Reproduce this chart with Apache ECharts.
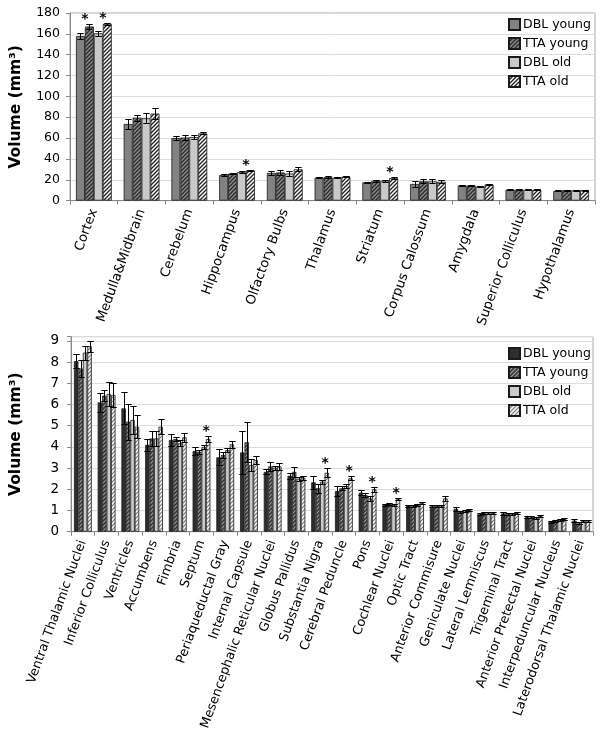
<!DOCTYPE html>
<html><head><meta charset="utf-8">
<script src="https://cdn.jsdelivr.net/npm/echarts@6/dist/echarts.min.js"></script>
<style>
html,body{margin:0;padding:0;background:#fff;width:602px;height:739px;overflow:hidden}
#top{position:absolute;left:0;top:0;width:602px;height:330px}
#bot{position:absolute;left:0;top:330px;width:602px;height:409px}
</style>
</head><body><div id="top"></div><div id="bot"></div>
<script>
// ---------- DATA ----------
const seriesNames = ['DBL young', 'TTA young', 'DBL old', 'TTA old'];

const topCats = ['Cortex','Medulla&Midbrain','Cerebelum','Hippocampus','Olfactory Bulbs','Thalamus','Striatum','Corpus Calossum','Amygdala','Superior Colliculus','Hypothalamus'];
const topTicks = [0,20,40,60,80,100,120,140,160,180];
const topDBLyoung = [158, 73.5, 60, 24.5, 26.5, 22, 17.5, 16, 14.5, 10.5, 9.3];
const topTTAyoung = [167, 79.5, 60.5, 26, 27, 22.5, 19, 18.5, 14.5, 10.5, 10];
const topDBLold   = [160.5, 79, 61, 27.5, 26, 22, 19, 18.5, 13.5, 10.5, 9.8];
const topTTAold   = [169.5, 83.5, 64.5, 29, 30, 23, 21.5, 18, 15.5, 10.5, 10];
const topDBLyoungErr = [2.7, 4.5, 2, 0.7, 1.5, 0.5, 0.8, 2.5, 0.7, 0.4, 0.5];
const topTTAyoungErr = [2, 3, 2, 0.7, 2, 0.7, 0.7, 2, 0.7, 0.4, 0.5];
const topDBLoldErr   = [2.5, 5, 2, 0.7, 2.5, 0.5, 0.7, 2, 0.7, 0.4, 0.4];
const topTTAoldErr   = [1, 5, 1, 0.7, 2, 0.5, 1, 1.5, 0.8, 0.4, 0.4];
// significance markers: [category index, series index]
const topStars = [[0,1],[0,3],[3,3],[6,3]];

const botCats = ['Ventral Thalamic Nuclei','Inferior Colliculus','Ventricles','Accumbens','Fimbria','Septum','Periaqueductal Gray','Internal Capsule','Mesencephalic Reticular Nuclei','Globus Pallidus','Substantia Nigra','Cerebral Peduncle','Pons','Cochlear Nuclei','Optic Tract','Anterior Commisure','Geniculate Nuclei','Lateral Lemniscus','Trigeminal Tract','Anterior Pretectal Nuclei','Interpeduncular Nucleus','Laterodorsal Thalamic Nuclei'];
const botTicks = [0,1,2,3,4,5,6,7,8,9];
const botDBLyoung = [8.05, 6.1, 5.82, 4.1, 4.33, 3.81, 3.51, 3.74, 2.82, 2.64, 2.33, 1.92, 1.84, 1.26, 1.23, 1.2, 1.08, 0.82, 0.86, 0.68, 0.47, 0.52];
const botTTAyoung = [7.7, 6.42, 5.19, 4.4, 4.37, 3.77, 3.62, 4.22, 3.08, 2.82, 2.05, 2.05, 1.73, 1.31, 1.2, 1.23, 0.94, 0.87, 0.84, 0.68, 0.5, 0.39];
const botDBLold   = [8.45, 6.5, 5.27, 4.4, 4.17, 4.0, 3.85, 3.15, 3.02, 2.5, 2.36, 2.15, 1.57, 1.26, 1.26, 1.23, 0.99, 0.87, 0.84, 0.63, 0.55, 0.5];
const botTTAold   = [8.75, 6.45, 4.95, 4.95, 4.45, 4.37, 4.12, 3.38, 3.08, 2.55, 2.78, 2.52, 2.0, 1.53, 1.34, 1.57, 1.02, 0.9, 0.87, 0.74, 0.6, 0.52];
const botDBLyoungErr = [0.35, 0.45, 0.76, 0.28, 0.27, 0.17, 0.38, 1.02, 0.12, 0.15, 0.3, 0.22, 0.13, 0.05, 0.05, 0.05, 0.08, 0.05, 0.05, 0.05, 0.05, 0.08];
const botTTAyoungErr = [0.42, 0.26, 0.85, 0.35, 0.1, 0.1, 0.15, 0.94, 0.22, 0.24, 0.22, 0.1, 0.1, 0.05, 0.05, 0.05, 0.05, 0.05, 0.05, 0.05, 0.05, 0.05];
const botDBLoldErr   = [0.33, 0.55, 0.66, 0.35, 0.15, 0.1, 0.1, 0.27, 0.1, 0.1, 0.1, 0.1, 0.1, 0.05, 0.05, 0.05, 0.05, 0.05, 0.05, 0.05, 0.05, 0.05];
const botTTAoldErr   = [0.25, 0.55, 0.55, 0.35, 0.22, 0.14, 0.16, 0.2, 0.17, 0.1, 0.21, 0.1, 0.12, 0.05, 0.05, 0.11, 0.05, 0.05, 0.05, 0.05, 0.05, 0.05];
const botStars = [[5,3],[10,3],[11,3],[12,3],[13,3]];

// ---------- STYLE HELPERS ----------
const FONT = 'DejaVu Sans';
function hatch(bg, fg, size, lw) {
  const c = document.createElement('canvas');
  c.width = size; c.height = size;
  const ctx = c.getContext('2d');
  ctx.fillStyle = bg; ctx.fillRect(0, 0, size, size);
  ctx.strokeStyle = fg; ctx.lineWidth = lw;
  ctx.beginPath();
  ctx.moveTo(-1, size + 1); ctx.lineTo(size + 1, -1);
  ctx.moveTo(-1, 1); ctx.lineTo(1, -1);
  ctx.moveTo(size - 1, size + 1); ctx.lineTo(size + 1, size - 1);
  ctx.stroke();
  return {image: c, repeat: 'repeat'};
}

const GAP = 0.25;
function errRender(n) {
  return function (params, api) {
    const i = api.value(0), v = api.value(1), e = api.value(2), k = api.value(3), star = api.value(4);
    const band = api.size([1, 0])[0];
    const barW = band * (1 - GAP) / n;
    const cx = Math.round(api.coord([i, 0])[0] + (k - (n - 1) / 2) * barW) + 0.5;
    const yt = Math.round(api.coord([i, v + e])[1]) + 0.5;
    const yb = Math.round(api.coord([i, v - e])[1]) + 0.5;
    const cap = 3.2;
    const st = {stroke: '#000', lineWidth: 1};
    const ch = [
      {type: 'line', shape: {x1: cx, y1: yt, x2: cx, y2: yb}, style: st},
      {type: 'line', shape: {x1: cx - cap, y1: yt, x2: cx + cap, y2: yt}, style: st},
      {type: 'line', shape: {x1: cx - cap, y1: yb, x2: cx + cap, y2: yb}, style: st}
    ];
    if (star) {
      ch.push({type: 'text', x: cx - barW * 0.5, y: yt - 5,
        style: {text: '*', fill: '#000', font: 'bold 14px "' + FONT + '"', align: 'center', verticalAlign: 'middle'}});
    }
    return {type: 'group', children: ch};
  };
}

function buildErrData(vals, errs, stars) {
  const out = [];
  vals.forEach((arr, k) => arr.forEach((v, i) => {
    const s = stars.some(p => p[0] === i && p[1] === k) ? 1 : 0;
    out.push([i, v, errs[k][i], k, s]);
  }));
  return out;
}

function makeOption(cfg) {
  const vals = cfg.vals;
  const series = vals.map((arr, k) => ({
    name: seriesNames[k], type: 'bar', data: arr,
    barGap: '0%', barCategoryGap: (GAP * 100) + '%',
    itemStyle: {color: cfg.colors[k], borderColor: '#1a1a1a', borderWidth: 0.8},
    emphasis: {disabled: true}, animation: false
  }));
  series.push({
    type: 'custom', renderItem: errRender(vals.length),
    data: buildErrData(vals, cfg.errs, cfg.stars), z: 10, animation: false, silent: true
  });
  return {
    animation: false,
    textStyle: {fontFamily: FONT},
    grid: Object.assign({show: true, borderColor: '#a8a8a8', borderWidth: 1, backgroundColor: 'transparent'}, cfg.grid),
    legend: {
      orient: 'vertical', left: cfg.legend.left, top: cfg.legend.top, padding: 0,
      data: seriesNames, icon: 'rect', itemWidth: 11, itemHeight: 11, itemGap: cfg.legend.gap,
      textStyle: {fontFamily: FONT, fontSize: 12.5, color: '#000', padding: [0, 0, 0, -2]},
      selectedMode: false
    },
    xAxis: {
      type: 'category', data: cfg.cats,
      axisLine: {lineStyle: {color: '#888'}},
      axisTick: {show: true, length: 4, lineStyle: {color: '#888'}},
      axisLabel: {interval: 0, rotate: 70, fontSize: cfg.xFont, color: '#000', fontFamily: FONT, margin: 9}
    },
    yAxis: {
      type: 'value', min: cfg.ticks[0], max: cfg.max, interval: cfg.ticks[1] - cfg.ticks[0],
      name: 'Volume (mm³)', nameLocation: 'middle', nameGap: cfg.nameGap, nameRotate: 90,
      nameTextStyle: {fontFamily: FONT, fontSize: 15.5, fontWeight: 'bold', color: '#000'},
      axisLine: {show: true, lineStyle: {color: '#888'}},
      axisTick: {show: true, length: 4, lineStyle: {color: '#888'}},
      splitLine: {lineStyle: {color: '#dcdcdc'}},
      axisLabel: {fontSize: cfg.yFont, color: '#000', fontFamily: FONT, margin: cfg.yMargin,
        formatter: v => (cfg.ticks.indexOf(v) >= 0 ? String(v) : '')}
    },
    series: series
  };
}

const topColors = ['#828282', hatch('#8a8a8a', '#2a2a2a', 4, 1.3), '#c9c9c9', hatch('#ffffff', '#222222', 4, 1.3)];
const botColors = ['#2e2e2e', hatch('#3c3c3c', '#a0a0a0', 4, 1.1), '#cbcbcb', hatch('#f4f4f4', '#7a7a7a', 4, 1.1)];

const topChart = echarts.init(document.getElementById('top'), null, {renderer: 'canvas'});
topChart.setOption(makeOption({
  cats: topCats, ticks: topTicks, max: 180,
  vals: [topDBLyoung, topTTAyoung, topDBLold, topTTAold],
  errs: [topDBLyoungErr, topTTAyoungErr, topDBLoldErr, topTTAoldErr],
  stars: topStars, colors: topColors,
  grid: {left: 63.5, right: 7, top: 13, bottom: 129},
  legend: {left: 508, top: 18, gap: 6},
  xFont: 13.2, yFont: 12.5, yMargin: 10, nameGap: 46
}));

const botChart = echarts.init(document.getElementById('bot'), null, {renderer: 'canvas'});
botChart.setOption(makeOption({
  cats: botCats, ticks: botTicks, max: 9.2,
  vals: [botDBLyoung, botTTAyoung, botDBLold, botTTAold],
  errs: [botDBLyoungErr, botTTAyoungErr, botDBLoldErr, botTTAoldErr],
  stars: botStars, colors: botColors,
  grid: {left: 66.5, right: 9, top: 6.7, bottom: 207.3},
  legend: {left: 508, top: 17, gap: 6},
  xFont: 12.8, yFont: 13.5, yMargin: 12, nameGap: 47
}));
</script>
</body></html>
